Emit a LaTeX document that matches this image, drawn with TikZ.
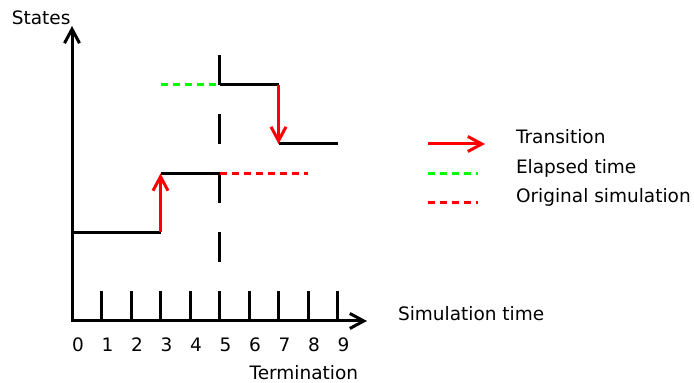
\documentclass[tikz,border=0pt]{standalone}
\usepackage{fontspec}
\setmainfont{DejaVu Sans}
\usepackage{tikz}
\usetikzlibrary{arrows.meta}

\begin{document}
\begin{tikzpicture}[x=29.5pt,y=29.5pt,line width=3pt,
    font=\fontsize{18.5}{22}\selectfont,
    >={Straight Barb[length=14pt,width=15pt]},
    lbl/.style={inner sep=0pt}]
            \useasboundingbox (-2.441,-2.102) rectangle (21.085,10.881);
            % 坐标轴
            \path[draw,<->](10,0)--(0,0)--(0,10);
            \node[lbl,anchor=base east] (states) at (0,10.05) {States};
            \node[lbl,anchor=base west] (simtime) at (11.0,0) {Simulation time};
            \foreach \i in {1,...,9} \draw (\i,0)--(\i,1);
            \foreach \i in {0,...,9} \node[lbl,anchor=base] (n\i) at (\i+0.2,-1.03) {\i};
            \node[lbl,anchor=base] (term) at (7.86,-1.97) {Termination};

            % 终止时刻
            \draw[dash pattern=on 29.5pt off 29.5pt] (5,9)--(5,2);

            % 状态
            \draw (0,3)--(3,3);
            \draw[red,->] (3,3)--(3,5);
            \draw (3,5)--(5,5);
            \draw[red,dash pattern=on 7pt off 5pt] (5,5)--(8,5);
            \draw[green,dash pattern=on 7pt off 5pt] (3,8)--(5,8);
            \draw (5,8)--(7,8);
            \draw[red,->] (7,8)--(7,6);
            \draw (7,6)--(9,6);

            % 图例
            \draw[red,->] (12.07,6)--(14,6);
            \draw[green,dash pattern=on 7pt off 5pt] (12.07,5)--(13.75,5);
            \draw[red,dash pattern=on 7pt off 5pt] (12.07,4)--(13.75,4);
            \node[lbl,anchor=base west] (trans) at (15.0,6) {Transition};
            \node[lbl,anchor=base west] (elapsed) at (15.0,5) {Elapsed time};
            \node[lbl,anchor=base west] (orig) at (15.0,4) {Original simulation};
\end{tikzpicture}
\end{document}
